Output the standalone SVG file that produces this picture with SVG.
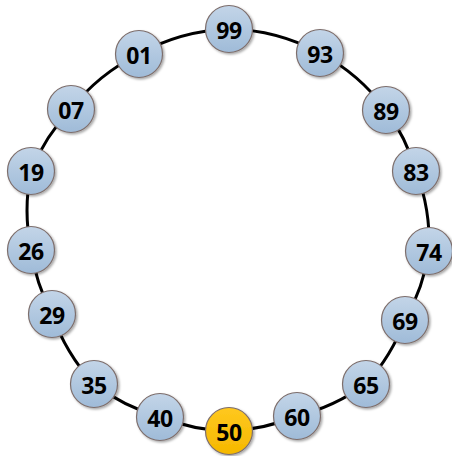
<svg xmlns="http://www.w3.org/2000/svg" width="452" height="456" viewBox="0 0 452 456">
<defs>
<linearGradient id="gb" x1="0" y1="0" x2="0" y2="1">
<stop offset="0" stop-color="#c3d5e8"/>
<stop offset="1" stop-color="#9fbbd8"/>
</linearGradient>
<linearGradient id="gy" x1="0" y1="0" x2="0" y2="1">
<stop offset="0" stop-color="#ffc81e"/>
<stop offset="1" stop-color="#f5b800"/>
</linearGradient>
<filter id="sh" x="-30%" y="-30%" width="160%" height="160%">
<feDropShadow dx="1.5" dy="1.5" stdDeviation="1" flood-color="#000" flood-opacity="0.35"/>
</filter>
</defs>
<style>
.n circle{fill:url(#gb);stroke:#7d6e6c;stroke-width:1.2;filter:url(#sh)}
.n.y circle{fill:url(#gy)}
.n text{font-family:"Open Sans","Liberation Sans",sans-serif;font-weight:700;font-size:23px;letter-spacing:-0.5px;fill:#000;text-anchor:middle;dominant-baseline:central}
.c{fill:none;stroke:#000;stroke-width:3}
</style>
<g id="connectors">
<path class="c" d="M229,29 A200,200 0 0 1 320,53 A200,200 0 0 1 386,110 A200,200 0 0 1 416,171 A200,200 0 0 1 429,251 A200,200 0 0 1 405,320 A200,200 0 0 1 366,384 A200,200 0 0 1 297,416 A200,200 0 0 1 229,431 A200,200 0 0 1 160,417 A200,200 0 0 1 94,384 A200,200 0 0 1 52,314 A200,200 0 0 1 31,250 A200,200 0 0 1 31,171 A200,200 0 0 1 71,109 A200,200 0 0 1 139,54 A200,200 0 0 1 229,29"/>
</g>
<g id="n99" class="n"><circle cx="229" cy="29" r="23.5"/><text x="229" y="30">99</text></g>
<g id="n93" class="n"><circle cx="320" cy="53" r="23.5"/><text x="320" y="54">93</text></g>
<g id="n89" class="n"><circle cx="386" cy="110" r="23.5"/><text x="386" y="111">89</text></g>
<g id="n83" class="n"><circle cx="416" cy="171" r="23.5"/><text x="416" y="172">83</text></g>
<g id="n74" class="n"><circle cx="429" cy="251" r="23.5"/><text x="429" y="252">74</text></g>
<g id="n69" class="n"><circle cx="405" cy="320" r="23.5"/><text x="405" y="321">69</text></g>
<g id="n65" class="n"><circle cx="366" cy="384" r="23.5"/><text x="366" y="385">65</text></g>
<g id="n60" class="n"><circle cx="297" cy="416" r="23.5"/><text x="297" y="417">60</text></g>
<g id="n50" class="n y"><circle cx="229" cy="431" r="23.5"/><text x="229" y="432">50</text></g>
<g id="n40" class="n"><circle cx="160" cy="417" r="23.5"/><text x="160" y="418">40</text></g>
<g id="n35" class="n"><circle cx="94" cy="384" r="23.5"/><text x="94" y="385">35</text></g>
<g id="n29" class="n"><circle cx="52" cy="314" r="23.5"/><text x="52" y="315">29</text></g>
<g id="n26" class="n"><circle cx="31" cy="250" r="23.5"/><text x="31" y="251">26</text></g>
<g id="n19" class="n"><circle cx="31" cy="171" r="23.5"/><text x="31" y="172">19</text></g>
<g id="n07" class="n"><circle cx="71" cy="109" r="23.5"/><text x="71" y="110">07</text></g>
<g id="n01" class="n"><circle cx="139" cy="54" r="23.5"/><text x="139" y="55">01</text></g>
</svg>
